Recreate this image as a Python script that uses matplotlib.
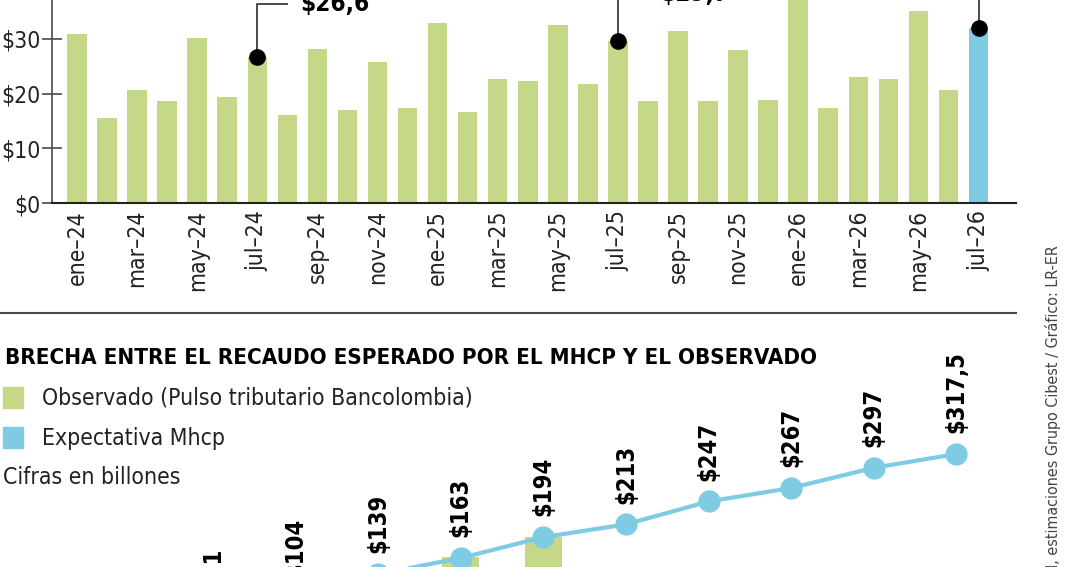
import numpy as np
import matplotlib
matplotlib.use('Agg')
import matplotlib.pyplot as plt
from matplotlib import font_manager
from matplotlib.patches import Rectangle
from matplotlib.lines import Line2D

# --- data: monthly tax collection (top) ---
months = ['ene', 'feb', 'mar', 'abr', 'may', 'jun', 'jul', 'ago', 'sep', 'oct', 'nov', 'dic']
periods = [f'{m}–{y}' for y in ['24', '25', '26'] for m in months][:31]
recaudo = [30.9, 15.5, 20.7, 18.6, 30.2, 19.4, 26.6, 16.1, 28.2, 17.0, 25.8, 17.4,
           32.9, 16.6, 22.7, 22.3, 32.5, 21.8, 29.7, 18.6, 31.4, 18.6, 28.0, 18.8,
           39.5, 17.4, 23.0, 22.7, 35.1, 20.7, 32.0]
callouts = {'jul–24': '$26,6', 'jul–25': '$29,7', 'jul–26': '$32,0'}

# --- data: cumulative expected vs observed (bottom) ---
esperado = [81, 104, 139, 163, 194, 213, 247, 267, 297, 317.5]
observado = [81, 104, 139, 164, 193.5]

GREEN = '#c5d887'
BLUE = '#7fcbe3'
GRAY = '#4a4a4a'

# pick a narrow font if one is installed
names = {f.name for f in font_manager.fontManager.ttflist}
cond = [f for f in font_manager.fontManager.ttflist
        if f.name == 'DejaVu Sans' and 'condensed' in str(f.stretch)]
if 'Liberation Sans Narrow' in names:
    FONT = dict(family='Liberation Sans Narrow')
elif cond:
    FONT = dict(family='DejaVu Sans', stretch='condensed')
else:
    FONT = dict(family='DejaVu Sans')

W, H = 1080, 567
fig = plt.figure(figsize=(W / 100, H / 100), dpi=100)


def fy(py):
    return 1 - py / H


# ---------------- top bar chart ----------------
step = 30.05       # px between bars
ppu = 5.47         # px per billion
ax = fig.add_axes([52 / W, fy(203), (1016 - 52) / W, 203 / H])
x = np.arange(len(recaudo))
colors = [GREEN] * (len(recaudo) - 1) + [BLUE]
ax.bar(x, recaudo, width=0.65, color=colors, zorder=1)
ax.set_xlim(-25 / step, (1016 - 77) / step)
ax.set_ylim(0, 203 / ppu)

for s in ['top', 'right']:
    ax.spines[s].set_visible(False)
ax.spines['left'].set_color(GRAY)
ax.spines['bottom'].set_color('#222222')
ax.spines['left'].set_linewidth(1.2)
ax.spines['bottom'].set_linewidth(1.5)

ax.set_yticks([0, 10, 20, 30])
ax.set_yticklabels(['$0', '$10', '$20', '$30'], fontsize=16.5, color='#222222', **FONT)
ax.tick_params(axis='y', direction='inout', length=14, width=1.2, color=GRAY, pad=1)
ax.set_xticks(x[::2])
ax.set_xticklabels(periods[::2], rotation=90, fontsize=16.5, color='#222222', **FONT)
ax.tick_params(axis='x', length=0, pad=5)

# callouts
elbow = {'jul–24': 36.4, 'jul–25': 38.2, 'jul–26': 41.0}
for lab, txt in callouts.items():
    i = periods.index(lab)
    v = recaudo[i]
    ax.plot([i, i, i + 1.0], [v, elbow[lab], elbow[lab]], color=GRAY, lw=1.4,
            clip_on=False, zorder=3)
    ax.plot([i], [v], 'o', color='black', ms=11, clip_on=False, zorder=4)
    ax.text(i + 1.42, elbow[lab], txt, fontsize=17.5, fontweight='bold', va='center',
            ha='left', color='black', clip_on=False, **FONT)

# separator
fig.add_artist(Line2D([0, 1016 / W], [fy(313), fy(313)], color=GRAY, lw=1.5))

# ---------------- bottom section ----------------
fig.text(5 / W, fy(358), 'BRECHA ENTRE EL RECAUDO ESPERADO POR EL MHCP Y EL OBSERVADO',
         fontsize=16, fontweight='bold', va='center', ha='left', color='black', **FONT)

fig.add_artist(Rectangle((3 / W, fy(408)), 20 / W, 21 / H, transform=fig.transFigure,
                         color=GREEN))
fig.text(42 / W, fy(398), 'Observado (Pulso tributario Bancolombia)', fontsize=16.5,
         va='center', ha='left', color='#222222', **FONT)
fig.add_artist(Rectangle((3 / W, fy(448)), 20 / W, 21 / H, transform=fig.transFigure,
                         color=BLUE))
fig.text(42 / W, fy(438), 'Expectativa Mhcp', fontsize=16.5, va='center', ha='left',
         color='#222222', **FONT)
fig.text(3 / W, fy(478), 'Cifras en billones', fontsize=16.5, va='center', ha='left',
         color='#222222', **FONT)

# line chart: 163 sits at px 558, 0.673 px per billion, 82.6 px between points
bstep = 82.6
bppu = 0.673
bx = fig.add_axes([0, 0, 1, 0.4])
bx.axis('off')
xb = np.arange(len(esperado))
bx.set_xlim(-213 / bstep, (W - 213) / bstep)
bx.set_ylim(163 - (H - 558) / bppu, 163 + (558 - (H - 0.4 * H)) / bppu)
bx.bar(xb[:len(observado)], observado, width=37 / bstep, color=GREEN, zorder=1)
bx.plot(xb, esperado, color=BLUE, lw=3, marker='o', ms=15, zorder=2)
for i, v in enumerate(esperado):
    lab = f'${v:g}'.replace('.', ',')
    bx.annotate(lab, (i, v), xytext=(0, 15), textcoords='offset points', rotation=90,
                ha='center', va='bottom', fontsize=17, fontweight='bold', color='black',
                annotation_clip=False, **FONT)

# source
fig.text(1053 / W, fy(245), 'Fuente: DIAN, estimaciones Grupo Cibest / Gráfico: LR-ER',
         rotation=90, ha='center', va='top', fontsize=11.5, color='#444444', **FONT)

fig.savefig('out.png', dpi=100)
